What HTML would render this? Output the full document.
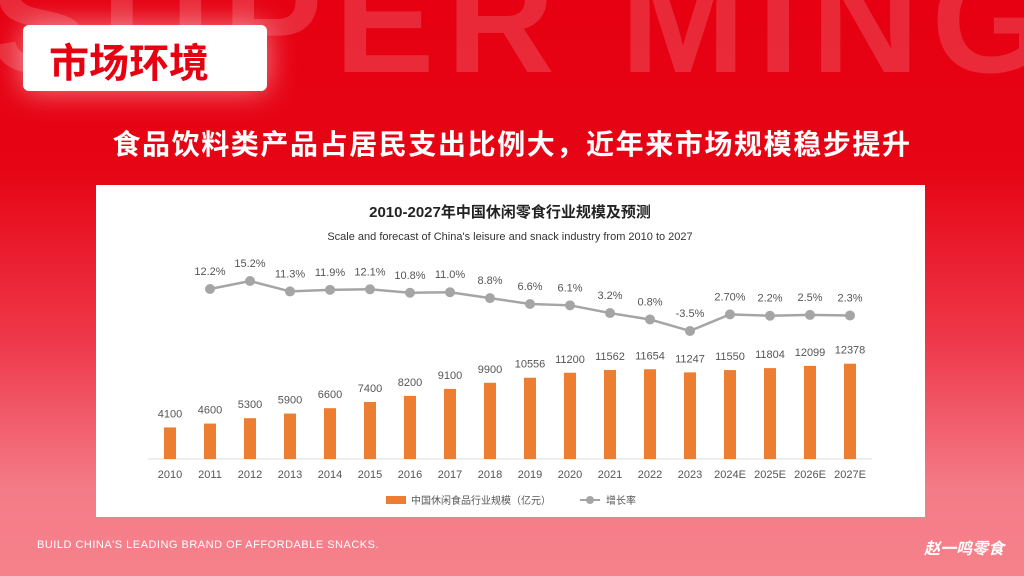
<!DOCTYPE html>
<html><head><meta charset="utf-8"><style>
*{margin:0;padding:0;box-sizing:border-box}
body{width:1024px;height:576px;overflow:hidden;position:relative;font-family:"Liberation Sans","Noto Sans CJK SC",sans-serif;
background:linear-gradient(180deg,#e60012 0%,#e60515 30%,#ee3a4c 60%,#f47c88 85%,#f6818b 100%)}
.wm{position:absolute;left:-10px;top:-66px;font-size:150px;font-weight:bold;color:rgba(255,255,255,0.16);letter-spacing:12px;white-space:nowrap;font-family:"Liberation Sans",sans-serif}
.tag{position:absolute;left:23px;top:25px;width:244px;height:66px;background:#fff;border-radius:6px;box-shadow:0 0 30px rgba(255,255,255,0.5)}
.tag span{position:absolute;left:26px;top:6px;font-size:40px;font-weight:bold;color:#e60012;font-family:"Noto Sans CJK SC",sans-serif}
.sub{position:absolute;left:0;width:1024px;top:123px;text-align:center;font-size:28px;font-weight:bold;color:#fff;font-family:"Noto Sans CJK SC",sans-serif;letter-spacing:1.6px}
.panel{position:absolute;left:96px;top:185px;width:829px;height:332px;background:#fff}
.foot{position:absolute;left:37px;top:539px;font-size:11px;color:#fff;letter-spacing:0.5px}
.logo{position:absolute;left:924px;top:535px;font-size:16px;font-weight:bold;color:#fff;font-style:italic;font-family:"Noto Sans CJK SC",sans-serif}
</style></head><body>
<div class="wm">SUPER MING</div>
<div class="tag"><span>市场环境</span></div>
<div class="sub">食品饮料类产品占居民支出比例大，近年来市场规模稳步提升</div>
<div class="panel">
<svg id="chart" width="829" height="332"></svg>
</div>
<div class="foot">BUILD CHINA'S LEADING BRAND OF AFFORDABLE SNACKS.</div>
<div class="logo">赵一鸣零食</div>
<script>
const categories=["2010","2011","2012","2013","2014","2015","2016","2017","2018","2019","2020","2021","2022","2023","2024E","2025E","2026E","2027E"];
const sizes=[4100,4600,5300,5900,6600,7400,8200,9100,9900,10556,11200,11562,11654,11247,11550,11804,12099,12378];
const growth=[12.2,15.2,11.3,11.9,12.1,10.8,11.0,8.8,6.6,6.1,3.2,0.8,-3.5,2.7,2.2,2.5,2.3];
const growthLabels=["12.2%","15.2%","11.3%","11.9%","12.1%","10.8%","11.0%","8.8%","6.6%","6.1%","3.2%","0.8%","-3.5%","2.70%","2.2%","2.5%","2.3%"];
const NS="http://www.w3.org/2000/svg";
const svg=document.getElementById('chart');
const ox=96,oy=185;
const xPos=i=>170+40*i-ox;
const yBar=v=>459-v*0.0077-oy;
const yLine=v=>321.6-v*2.67-oy;
function mk(tag,attrs,text){const e=document.createElementNS(NS,tag);for(const k in attrs)e.setAttribute(k,attrs[k]);if(text!==undefined)e.textContent=text;svg.appendChild(e);return e;}
let t=mk('text',{x:414,y:32,'text-anchor':'middle','font-size':15,'font-weight':'bold',fill:'#222','font-family':'Liberation Sans,Noto Sans CJK SC,sans-serif'},'2010-2027年中国休闲零食行业规模及预测');


t=mk('text',{x:414,y:55,'text-anchor':'middle','font-size':11,fill:'#333'},"Scale and forecast of China's leisure and snack industry from 2010 to 2027");


let ax=mk('line',{x1:xPos(0)-22,x2:xPos(17)+22,y1:459-oy,y2:459-oy,stroke:'#ddd'});


sizes.forEach((v,i)=>{
 const r=mk('rect',{x:xPos(i)-6,y:yBar(v),width:12,height:459-oy-yBar(v),fill:'#ed7d31'});
 
 
 const l=mk('text',{x:xPos(i),y:yBar(v)-10,'text-anchor':'middle','font-size':11,fill:'#555'},String(v));
 
 
 const c=mk('text',{x:xPos(i),y:478-oy,'text-anchor':'middle','font-size':11,fill:'#555'},categories[i]);
 
 
});
const pts=growth.map((v,i)=>xPos(i+1)+','+yLine(v)).join(' ');
const pl=mk('polyline',{points:pts,fill:'none',stroke:'#a5a5a5','stroke-width':2.5});


growth.forEach((v,i)=>{
 const c=mk('circle',{cx:xPos(i+1),cy:yLine(v),r:5,fill:'#a5a5a5'});
 
 
 const l=mk('text',{x:xPos(i+1),y:yLine(v)-14,'text-anchor':'middle','font-size':11,fill:'#555'},growthLabels[i]);
 
 
});
let lg=mk('rect',{x:290,y:311,width:20,height:8,fill:'#ed7d31'});


lg=mk('text',{x:315,y:319,'font-size':10,fill:'#555'},'中国休闲食品行业规模（亿元）');


lg=mk('line',{x1:484,x2:504,y1:315,y2:315,stroke:'#a5a5a5','stroke-width':2});


lg=mk('circle',{cx:494,cy:315,r:4,fill:'#a5a5a5'});


lg=mk('text',{x:510,y:319,'font-size':10,fill:'#555'},'增长率');


</script>
</body></html>
